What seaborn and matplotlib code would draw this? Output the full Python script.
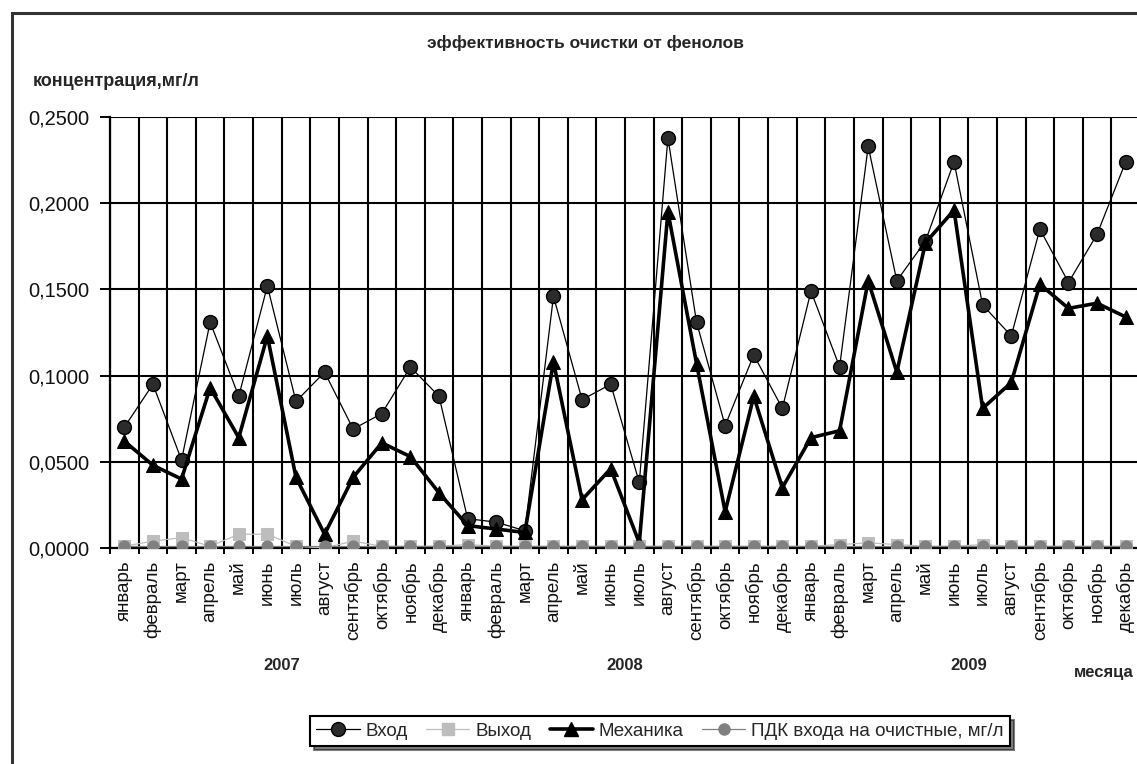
import numpy as np
import pandas as pd
import matplotlib
matplotlib.use("Agg")
import matplotlib.pyplot as plt
import seaborn as sns
from matplotlib.ticker import FixedLocator, FuncFormatter, NullFormatter
from matplotlib.patches import Rectangle
from matplotlib.lines import Line2D
from matplotlib.transforms import blended_transform_factory

# --- data -------------------------------------------------------------------
months = ["январь", "февраль", "март", "апрель", "май", "июнь",
          "июль", "август", "сентябрь", "октябрь", "ноябрь", "декабрь"]
years = ["2007", "2008", "2009"]

# concentration at the plant inlet, mg/l
vhod = [0.070, 0.095, 0.051, 0.131, 0.088, 0.152, 0.085, 0.102, 0.069, 0.078, 0.105, 0.088,
        0.017, 0.015, 0.010, 0.146, 0.086, 0.095, 0.038, 0.238, 0.131, 0.071, 0.112, 0.081,
        0.149, 0.105, 0.233, 0.155, 0.178, 0.224, 0.141, 0.123, 0.185, 0.154, 0.182, 0.224]
# concentration at the outlet, mg/l
vyhod = [0.001, 0.004, 0.006, 0.001, 0.008, 0.008, 0.001, 0.000, 0.004, 0.001, 0.001, 0.001,
         0.002, 0.001, 0.001, 0.001, 0.001, 0.001, 0.001, 0.001, 0.001, 0.001, 0.001, 0.001,
         0.001, 0.002, 0.003, 0.002, 0.001, 0.001, 0.002, 0.001, 0.001, 0.001, 0.001, 0.001]
# after mechanical treatment, mg/l
mehanika = [0.062, 0.048, 0.040, 0.093, 0.064, 0.123, 0.041, 0.008, 0.041, 0.061, 0.053, 0.032,
            0.013, 0.011, 0.009, 0.108, 0.028, 0.046, 0.003, 0.195, 0.107, 0.021, 0.088, 0.035,
            0.064, 0.068, 0.155, 0.102, 0.177, 0.196, 0.081, 0.096, 0.153, 0.139, 0.142, 0.134]
# maximum permissible inlet concentration, mg/l
pdk = [0.001] * 36

y_ticks = [0.0, 0.05, 0.10, 0.15, 0.20, 0.25]

series_names = ["Вход", "Выход", "Механика", "ПДК входа на очистные, мг/л"]
series_values = [vhod, vyhod, mehanika, pdk]

n = len(vhod)
rows = []
for name, vals in zip(series_names, series_values):
    for i, v in enumerate(vals):
        rows.append({"idx": i, "value": v, "series": name})
df = pd.DataFrame(rows)

# --- styling ----------------------------------------------------------------
sns.set_theme(style="white")
plt.rcParams["font.family"] = ["Liberation Sans", "DejaVu Sans"]

W, H = 1137, 764
fig = plt.figure(figsize=(W / 100, H / 100), dpi=100)
ax = fig.add_axes([110 / W, (H - 548) / H, 1030 / W, 431 / H])

styles = {
    "Вход": dict(color="black", linewidth=0.9, marker="o", markersize=10,
                 markerfacecolor="#2b2b2b", markeredgecolor="black", markeredgewidth=1.0),
    "Выход": dict(color="#bdbdbd", linewidth=0.9, marker="s", markersize=9,
                  markerfacecolor="#bdbdbd", markeredgecolor="#bdbdbd"),
    "Механика": dict(color="black", linewidth=2.6, marker="^", markersize=10,
                     markerfacecolor="black", markeredgecolor="black"),
    "ПДК входа на очистные, мг/л": dict(color="#808080", linewidth=0.9, marker="o", markersize=8,
                                        markerfacecolor="#808080", markeredgecolor="#808080"),
}

for name in series_names:
    sns.lineplot(data=df[df["series"] == name], x="idx", y="value", ax=ax,
                 legend=False, zorder=3, **styles[name])

ax.set_xlim(-0.5, n - 0.5)
ax.set_ylim(0, 0.25)
ax.set_xlabel("")
ax.set_ylabel("")

# y axis
ax.yaxis.set_major_locator(FixedLocator(y_ticks))
ax.yaxis.set_major_formatter(FuncFormatter(lambda v, p: f"{v:.4f}".replace(".", ",")))
ax.tick_params(axis="y", which="major", direction="out", length=7, width=1.4,
               color="black", labelsize=14.5, pad=8, left=True, labelcolor="#111111")

# x axis: labels at category centres, ticks and grid at category boundaries
ax.xaxis.set_major_locator(FixedLocator(np.arange(n)))
ax.set_xticklabels([months[i % 12] for i in range(n)], rotation=90, va="top", ha="center")
ax.xaxis.set_minor_locator(FixedLocator(np.arange(n + 1) - 0.5))
ax.xaxis.set_minor_formatter(NullFormatter())
ax.tick_params(axis="x", which="major", length=0, labelsize=13.5, pad=9, labelcolor="#111111")
ax.tick_params(axis="x", which="minor", direction="out", length=4, width=1.4,
               color="black", bottom=True)

ax.grid(False)
ax.grid(True, axis="y", which="major", color="black", linewidth=1.5)
ax.grid(True, axis="x", which="minor", color="black", linewidth=1.5)
ax.set_axisbelow(True)

for side in ["top", "right"]:
    ax.spines[side].set_visible(False)
for side in ["left", "bottom"]:
    ax.spines[side].set_color("black")
    ax.spines[side].set_linewidth(1.6)

# year labels under each group of months
tr = blended_transform_factory(ax.transData, fig.transFigure)
for k, yr in enumerate(years):
    ax.text(k * 12 + 5.5, (H - 665) / H, yr, transform=tr, ha="center", va="center",
            fontsize=12, fontweight="bold")

fig.text(1104 / W, (H - 672) / H, "месяца", ha="center", va="center",
         fontsize=12, fontweight="bold")

# titles
fig.text(585 / W, (H - 43) / H, "эффективность очистки от фенолов", ha="center",
         va="center", fontsize=12.5, fontweight="bold")
fig.text(33 / W, (H - 81) / H, "концентрация,мг/л", ha="left", va="center",
         fontsize=13, fontweight="bold")

# outer chart border
fig.add_artist(Rectangle((12 / W, -0.1), 1.2, (H - 13) / H + 0.1, transform=fig.transFigure,
                         fill=False, edgecolor="#333333", linewidth=2.2))

# legend
handles = [Line2D([0], [0], **styles[name]) for name in series_names]
leg = fig.legend(handles, series_names, loc="center", bbox_to_anchor=(660 / W, (H - 731) / H),
                 ncol=4, frameon=True, fancybox=False, shadow={"ox": 3, "oy": -3, "color": "black"},
                 fontsize=13.5, handlelength=2.3, handletextpad=0.3, columnspacing=1.0,
                 borderpad=0.35, edgecolor="black")
leg.get_frame().set_linewidth(1.5)

fig.savefig("out.png", dpi=100)
